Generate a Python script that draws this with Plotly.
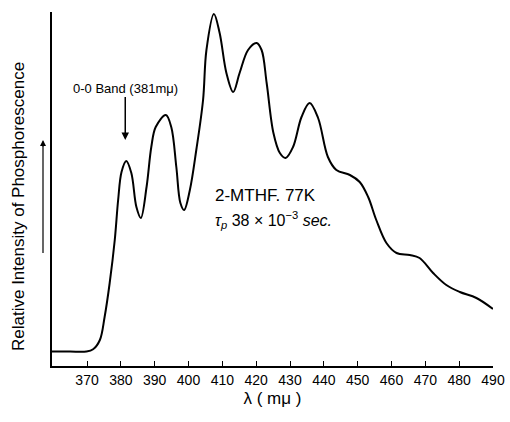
import plotly.graph_objects as go

# wavelength (mμ) and relative intensity (arbitrary units)
wavelength = [359.65, 365, 369.8, 371.8, 373.8, 375.2, 376.7, 378.2, 379.2, 380.2,
              381.6, 383.1, 384.6, 385.9, 387.6, 389.0, 390.3, 393.3, 394.9, 396.4,
              397.6, 398.7, 400.4, 402.3, 404.3, 405.3, 407.5, 409.2, 411.2, 413.2,
              415.1, 417.6, 420.1, 421.6, 423.1, 425.1, 427.0, 428.7, 430.9, 433.4,
              435.8, 438.3, 441.2, 443.7, 447.7, 450.6, 453.1, 455.5, 458.5, 461.5,
              465.4, 468.3, 472.3, 476.2, 480.2, 485.1, 490.0]
intensity = [14.5, 14.5, 14.5, 16.7, 26, 49, 83, 126, 166, 194,
             205, 193, 159, 148, 179, 219, 239, 251, 239, 199,
             163, 156, 176, 216, 266, 316, 352, 333, 293, 274,
             293, 316, 323, 316, 283, 233, 213, 208, 219, 249,
             263, 248, 209, 196, 191, 184, 169, 146, 123, 113,
             111, 108, 93, 81, 74, 68, 57]

tick_vals = [370, 380, 390, 400, 410, 420, 430, 440, 450, 460, 470, 480, 490]
tick_text = [str(v) for v in tick_vals]

FONT = "Liberation Sans, Arial, sans-serif"

fig = go.Figure()
fig.add_trace(go.Scatter(x=wavelength, y=intensity, mode="lines",
                         line=dict(color="black", width=2, shape="spline", smoothing=1.0),
                         hoverinfo="skip", showlegend=False))

fig.update_layout(
    width=510, height=422,
    margin=dict(l=52, r=17, t=12, b=56, autoexpand=False),
    paper_bgcolor="white", plot_bgcolor="white",
    font=dict(family=FONT, color="black", size=13),
    xaxis=dict(range=[359.65, 490], tickvals=tick_vals, ticktext=tick_text,
               ticks="inside", ticklen=5, tickwidth=1.2, tickcolor="black",
               showline=True, linecolor="black", linewidth=2, showgrid=False,
               zeroline=False, automargin=False, tickfont=dict(size=14, family=FONT),
               title=dict(text="λ ( mμ )", font=dict(size=17, family=FONT), standoff=5)),
    yaxis=dict(range=[0, 354], showticklabels=False, ticks="", showline=True,
               linecolor="black", linewidth=1.5, showgrid=False, zeroline=False,
               automargin=False),
)

# y-axis title
fig.add_annotation(xref="paper", yref="paper", x=(18 - 52) / 441, y=(366 - 207) / 354,
                   text="Relative Intensity of Phosphorescence", textangle=-90,
                   showarrow=False, font=dict(size=17, family=FONT),
                   xanchor="center", yanchor="middle")

# 0-0 band label with its arrow
fig.add_annotation(x=381.3, y=226, ax=0, ay=-52, text="0-0 Band (381mμ)", showarrow=True,
                   arrowhead=2, arrowsize=1, arrowwidth=1.5, arrowcolor="black",
                   font=dict(size=13, family=FONT))

# y-axis direction arrow (shaft + head)
ax_x = (43 - 52) / 441
fig.add_shape(type="line", xref="paper", yref="paper", x0=ax_x, x1=ax_x,
              y0=(366 - 253) / 354, y1=(366 - 143) / 354,
              line=dict(color="black", width=1.2))
fig.add_annotation(xref="paper", yref="paper", x=ax_x, y=(366 - 140) / 354,
                   ax=0, ay=8, text="", showarrow=True, arrowhead=2, arrowsize=1,
                   arrowwidth=1.2, arrowcolor="black")

# conditions text
fig.add_annotation(x=407.1, y=171, text="2-MTHF. 77K", showarrow=False,
                   font=dict(size=17, family=FONT), xanchor="left", yanchor="middle")
fig.add_annotation(x=407.3, y=146, text="<i>τ<sub>p</sub></i> 38 × 10<sup>−3</sup> <i>sec.</i>",
                   showarrow=False, font=dict(size=16, family=FONT),
                   xanchor="left", yanchor="middle")

fig.write_html("out.html", config={"displayModeBar": False},
               post_script="document.body.style.margin='0';document.body.style.overflow='hidden';")
